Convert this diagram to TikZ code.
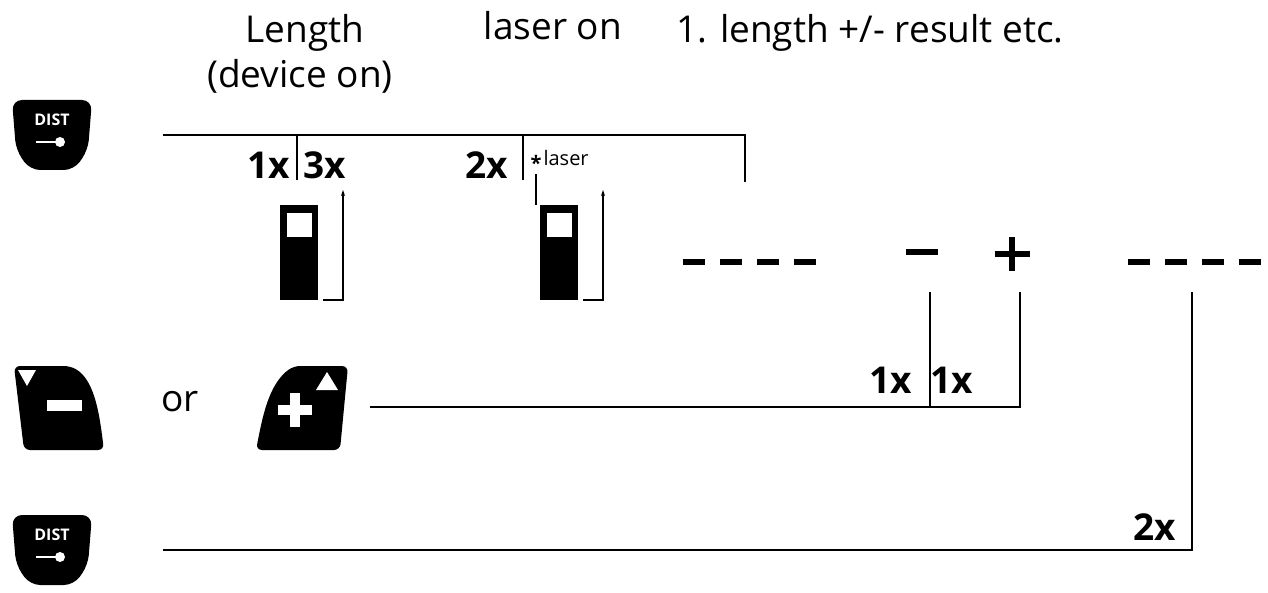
\documentclass[tikz,border=0pt]{standalone}
\usepackage{fontspec}
\setmainfont{Open Sans}
\usetikzlibrary{arrows.meta}
\begin{document}
\begin{tikzpicture}[x=1pt,y=-1pt,
  ln/.style={line width=1.6pt},
  bx/.style={font=\fontsize{37}{40}\selectfont\bfseries},
  lbl/.style={font=\fontsize{37}{42}\selectfont},
  dsh/.style={line width=6pt},
  dist/.pic={\fill[rounded corners=10pt] (0,0)--(80,0)--(76,50)--(62,70)--(18,70)--(4,50)--cycle;
    \node[white,font=\fontsize{16}{17}\selectfont\bfseries] at (40,20) {DIST};
    \draw[white,line width=1.5pt] (24,42)--(44,42); \fill[white] (48,42) circle (5pt);}
  ]
\useasboundingbox (0,0) rectangle (1268,593);
% texts
\node[lbl] (t1) at (305,33) {Length};
\node[lbl] (t2) at (300,76) {(device on)};
\node[lbl] (t3) at (553,26) {laser on};
\node[lbl] (t4) at (870,33) {1. length +/- result etc.};
% buttons
\pic at (12,100) {dist};
\begin{scope}[shift={(12,515)},xscale=1.3,yscale=1.05]\pic at (0,0) {dist};\end{scope}
\fill[rounded corners=6pt] (14,366)--(70,366) .. controls (96,380) and (100,420) .. (104,450)--(24,450) -- cycle;
\fill[white] (18,370)--(36,370)--(27,386)--cycle;
\fill[white] (47,400) rectangle (82,411);
\node[lbl] (or) at (180,402) {or};
\fill[rounded corners=6pt] (348,366)--(340,450)--(256,450) .. controls (262,420) and (268,384) .. (294,366)--cycle;
\fill[white] (316,390)--(338,390)--(327,372)--cycle;
\fill[white] (278,405) rectangle (312,415); \fill[white] (290,393) rectangle (300,427);
% top line
\draw[ln] (163,135)--(745,135)--(745,182);
\draw[ln] (297,135)--(297,180);
\draw[ln] (523,135)--(523,180);
\node[bx] (a1) at (269,165) {1x};
\node[bx] (a3) at (325,165) {3x};
\node[bx] (a2) at (487,165) {2x};
\node[font=\fontsize{20}{20}\selectfont\bfseries] (st) at (536,163) {*};
\node[font=\fontsize{20}{22}\selectfont,anchor=west] (lz) at (540,158) {laser};
% devices
\foreach \x in {280,540}{
  \fill (\x,205) rectangle (\x+38,300);
  \fill[white] (\x+7,213) rectangle (\x+32,237);
  \draw[line width=1.3pt,-{Stealth[length=6pt,width=4pt]}] (\x+43,300)--(\x+63,300)--(\x+63,190);}
\draw[line width=1.3pt] (st.south)--(536,205);
% dashes
\foreach \x in {683,720,757,794}{\draw[dsh] (\x,262)--(\x+22,262);}
\foreach \x in {1128,1165,1202,1239}{\draw[dsh] (\x,262)--(\x+22,262);}
\draw[dsh] (906,252)--(938,252);
\draw[dsh] (995,254)--(1030,254); \draw[dsh] (1012,237)--(1012,271);
% plus-minus connectors
\draw[ln] (370,407)--(1020,407)--(1020,292);
\draw[ln] (930,292)--(930,407);
\node[bx] (b1) at (891,380) {1x};
\node[bx] (b2) at (952,380) {1x};
% bottom
\draw[ln] (163,550)--(1192,550)--(1192,292);
\node[bx] (b3) at (1155,527) {2x};
\end{tikzpicture}
\end{document}
